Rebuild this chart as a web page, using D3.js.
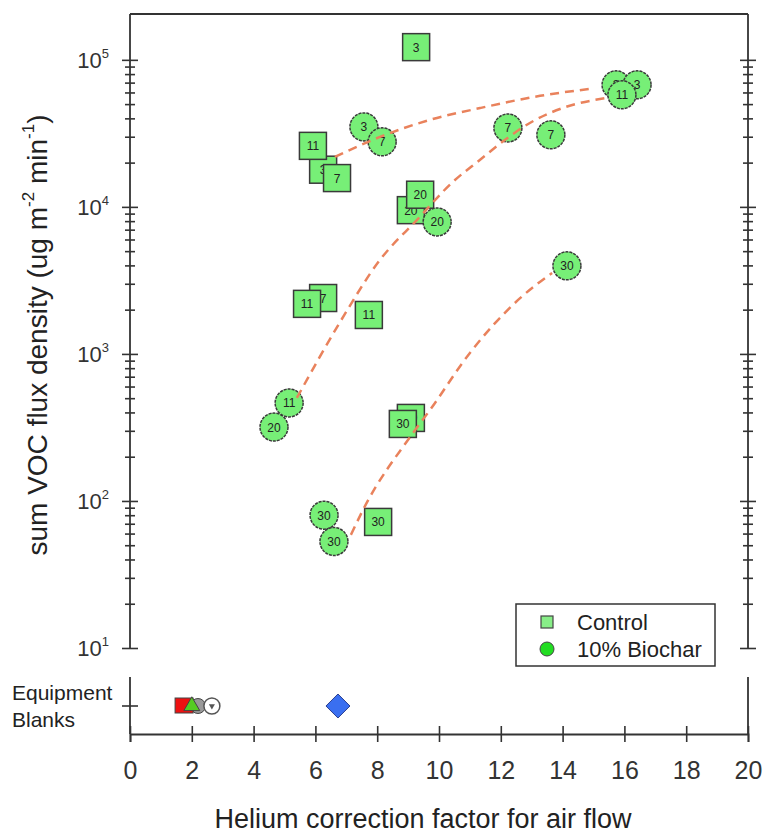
<!DOCTYPE html>
<html>
<head>
<meta charset="utf-8">
<script src="https://cdn.jsdelivr.net/npm/d3@7/dist/d3.min.js"></script>
<style>
  html, body { margin: 0; padding: 0; background: #fff; }
  svg { display: block; font-family: "Liberation Sans", Arial, sans-serif; }
</style>
</head>
<body>
<svg id="chart" width="764" height="831"></svg>
<script>
// Control (square markers): helium correction factor, VOC flux, sampling day
const controlX     = [9.26, 6.25, 5.92, 6.70, 9.09, 9.39, 6.25, 5.73, 7.73, 9.09, 8.83, 8.03];
const controlFlux  = [1.22e5, 1.79e4, 2.6e4, 1.57e4, 9.5e3, 1.21e4, 2.40e3, 2.19e3, 1.84e3, 367, 334, 72];
const controlDay   = ["3", "3", "11", "7", "20", "20", "7", "11", "11", "20", "30", "30"];

// 10% Biochar (circle markers)
const biocharX     = [7.57, 8.16, 9.94, 5.15, 4.66, 6.28, 6.60, 12.23, 13.62, 14.14, 15.73, 16.41, 15.92];
const biocharFlux  = [3.5e4, 2.77e4, 7.9e3, 464, 318, 80, 53, 3.44e4, 3.09e4, 3.97e3, 6.76e4, 6.76e4, 5.78e4];
const biocharDay   = ["3", "7", "20", "11", "20", "30", "30", "7", "7", "30", "3", "3", "11"];

// Dashed trend curves (helium factor, flux)
const trendAX = [6.63, 8.09, 9.71, 11.33, 13.27, 14.89];
const trendAY = [2.19e4, 2.99e4, 3.91e4, 4.70e4, 5.69e4, 6.35e4];
const trendBX = [5.40, 6.80, 8.09, 9.29, 10.45, 11.33, 12.14, 12.94, 14.01, 15.44];
const trendBY = [502, 1650, 4360, 8170, 1.48e4, 2.09e4, 2.86e4, 3.72e4, 4.71e4, 5.51e4];
const trendCX = [7.15, 7.54, 9.16, 9.71, 11.0, 12.56, 13.66];
const trendCY = [58.8, 86.9, 290, 416, 1016, 2328, 3556];

// Equipment blanks
const blankX     = [1.75, 2.0, 2.2, 2.65, 6.73];
const blankShape = ["square", "triangle", "circle", "ringed", "diamond"];

// Axis ticks and labels
const xTicks = [0, 2, 4, 6, 8, 10, 12, 14, 16, 18, 20];
const yMajor = [10, 100, 1000, 10000, 100000];
const yExp   = ["1", "2", "3", "4", "5"];
const legendLabels = ["Control", "10% Biochar"];

const svg = d3.select("#chart");

const plotLeft = 130, plotRight = 748, plotTop = 14, plotBottom = 648;
const blankTop = 677, axisY = 734, blankY = 706;

const x = d3.scaleLinear().domain([0, 20]).range([plotLeft, plotRight]);
const y = d3.scaleLog().domain([10, 2.05e5]).range([plotBottom, plotTop]);

const ink = "#333";
const markFill = "#77ef77";
const trendColor = "#e9825c";

// top frame line
svg.append("line").attr("x1", plotLeft).attr("x2", plotRight).attr("y1", plotTop).attr("y2", plotTop)
  .attr("stroke", ink).attr("stroke-width", 1.8);

// minor tick values (2..9 per decade, up to 1e5)
const yMinor = y.ticks().filter(v => v <= 1e5 && !yMajor.includes(v));

function styleCrossing(g, half) {
  g.select(".domain").remove();
  g.selectAll(".tick text").remove();
  g.selectAll(".tick line").attr("x1", -half).attr("x2", half)
    .attr("stroke", ink).attr("stroke-width", 1.6);
}

[plotLeft, plotRight].forEach(px => {
  svg.append("line").attr("x1", px).attr("x2", px).attr("y1", plotTop).attr("y2", plotBottom)
    .attr("stroke", ink).attr("stroke-width", 1.8);
  svg.append("g").attr("transform", `translate(${px},0)`)
    .call(d3.axisLeft(y).tickValues(yMajor).tickSize(8))
    .call(g => styleCrossing(g, 8));
  svg.append("g").attr("transform", `translate(${px},0)`)
    .call(d3.axisLeft(y).tickValues(yMinor).tickSize(5))
    .call(g => styleCrossing(g, 5));
});

// y tick labels with exponents
const yLab = svg.append("g");
yMajor.forEach((v, i) => {
  const t = yLab.append("text")
    .attr("x", 109).attr("y", y(v) + 8)
    .attr("text-anchor", "end")
    .attr("font-size", 22).attr("fill", "#333");
  t.append("tspan").text("10");
  t.append("tspan").attr("font-size", 13).attr("dy", -10).text(yExp[i]);
});

// y axis title
const yt = svg.append("text")
  .attr("transform", "translate(47,335) rotate(-90)")
  .attr("text-anchor", "middle")
  .attr("font-size", 28).attr("fill", "#222");
yt.append("tspan").text("sum VOC flux density (ug m");
yt.append("tspan").attr("font-size", 17).attr("dy", -13).text("-2");
yt.append("tspan").attr("dy", 13).text(" min");
yt.append("tspan").attr("font-size", 17).attr("dy", -13).text("-1");
yt.append("tspan").attr("dy", 13).text(")");

// lower panel frame
[plotLeft, plotRight].forEach(px => {
  svg.append("line").attr("x1", px).attr("x2", px).attr("y1", blankTop).attr("y2", axisY)
    .attr("stroke", ink).attr("stroke-width", 1.8);
});
svg.append("line").attr("x1", plotLeft - 8).attr("x2", plotLeft + 8).attr("y1", blankY).attr("y2", blankY)
  .attr("stroke", ink).attr("stroke-width", 1.6);

// x axis
const xg = svg.append("g").attr("transform", `translate(0,${axisY})`)
  .call(d3.axisBottom(x).tickValues(xTicks).tickSize(8).tickFormat(d3.format("d")));
xg.select(".domain").attr("stroke", ink).attr("stroke-width", 1.8);
xg.selectAll(".tick line").attr("y1", -8).attr("y2", 8).attr("stroke", ink).attr("stroke-width", 1.6);
xg.selectAll(".tick text").attr("y", 45).attr("dy", 0)
  .attr("font-size", 25).attr("fill", "#333").attr("font-family", "Liberation Sans, Arial, sans-serif");

svg.append("text").attr("x", 423).attr("y", 828)
  .attr("text-anchor", "middle").attr("font-size", 27).attr("fill", "#222")
  .text("Helium correction factor for air flow");

// equipment blanks label
svg.append("text").attr("x", 12).attr("y", 700).attr("font-size", 21).attr("fill", "#222").text("Equipment");
svg.append("text").attr("x", 12).attr("y", 727).attr("font-size", 21).attr("fill", "#222").text("Blanks");

// equipment blank symbols
const bg = svg.append("g");
blankShape.forEach((s, i) => {
  const cx = x(blankX[i]);
  if (s === "square") {
    bg.append("rect").attr("x", cx - 9).attr("y", blankY - 8).attr("width", 18).attr("height", 15)
      .attr("fill", "#ee1111").attr("stroke", "#444").attr("stroke-width", 1);
  } else if (s === "triangle") {
    bg.append("path").attr("d", d3.symbol(d3.symbolTriangle, 110)())
      .attr("transform", `translate(${cx},${blankY})`)
      .attr("fill", "#55cc22").attr("stroke", "#444").attr("stroke-width", 1);
  } else if (s === "circle") {
    bg.insert("circle", ":first-child").attr("cx", cx).attr("cy", blankY).attr("r", 7.5)
      .attr("fill", "#999").attr("stroke", "#444").attr("stroke-width", 1);
  } else if (s === "ringed") {
    bg.append("circle").attr("cx", cx).attr("cy", blankY).attr("r", 8)
      .attr("fill", "#fff").attr("stroke", "#555").attr("stroke-width", 1.5);
    bg.append("path").attr("d", d3.symbol(d3.symbolTriangle, 16)())
      .attr("transform", `translate(${cx},${blankY}) rotate(180)`)
      .attr("fill", "#555");
  } else if (s === "diamond") {
    bg.append("path").attr("d", "M0,-12L12,0L0,12L-12,0Z")
      .attr("transform", `translate(${cx},${blankY})`)
      .attr("fill", "#3a6ff0").attr("stroke", "#2a3f90").attr("stroke-width", 1);
  }
});

// control squares
const sq = 27;
const cg = svg.append("g");
controlX.forEach((v, i) => {
  const cx = x(v), cy = y(controlFlux[i]);
  cg.append("rect").attr("x", cx - sq / 2).attr("y", cy - sq / 2).attr("width", sq).attr("height", sq)
    .attr("fill", markFill).attr("stroke", "#3a3a3a").attr("stroke-width", 1.5);
  cg.append("text").attr("x", cx).attr("y", cy + 4.5).attr("text-anchor", "middle")
    .attr("font-size", 12).attr("fill", "#222").text(controlDay[i]);
});

// biochar circles
const bcg = svg.append("g");
biocharX.forEach((v, i) => {
  const cx = x(v), cy = y(biocharFlux[i]);
  bcg.append("circle").attr("cx", cx).attr("cy", cy).attr("r", 14)
    .attr("fill", markFill).attr("stroke", "#3a3a3a").attr("stroke-width", 1.5)
    .attr("stroke-dasharray", "3,1");
  bcg.append("text").attr("x", cx).attr("y", cy + 4.5).attr("text-anchor", "middle")
    .attr("font-size", 12).attr("fill", "#222").text(biocharDay[i]);
});

// dashed trend curves
const line = d3.line().x(d => x(d[0])).y(d => y(d[1])).curve(d3.curveMonotoneX);
[[trendAX, trendAY], [trendBX, trendBY], [trendCX, trendCY]].forEach(([xs, ys]) => {
  svg.append("path").attr("d", line(xs.map((v, i) => [v, ys[i]])))
    .attr("fill", "none").attr("stroke", trendColor).attr("stroke-width", 2.5)
    .attr("stroke-dasharray", "9,6");
});

// legend
const lg = svg.append("g");
lg.append("rect").attr("x", 516).attr("y", 604).attr("width", 199).attr("height", 62)
  .attr("fill", "#fff").attr("stroke", "#333").attr("stroke-width", 1.5);
lg.append("rect").attr("x", 541).attr("y", 616).attr("width", 12).attr("height", 12)
  .attr("fill", "#88ee88").attr("stroke", "#444").attr("stroke-width", 1.2);
lg.append("circle").attr("cx", 547).attr("cy", 649).attr("r", 7)
  .attr("fill", "#22dd22").attr("stroke", "#444").attr("stroke-width", 1);
legendLabels.forEach((t, i) => {
  lg.append("text").attr("x", 577).attr("y", 630 + i * 27)
    .attr("font-size", 22).attr("fill", "#222").text(t);
});
</script>
</body>
</html>
